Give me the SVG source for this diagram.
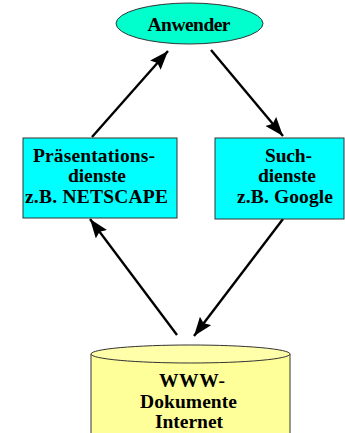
<svg xmlns="http://www.w3.org/2000/svg" width="345" height="433" viewBox="0 0 345 433">
<style>
text{font-family:"Liberation Serif","Times New Roman",serif;font-weight:bold;font-size:19.5px;fill:#000;text-anchor:middle;}
.edge{stroke:#000;stroke-width:2.4;fill:none;marker-end:url(#ah);}
.box{fill:#00FFFF;stroke:#333;stroke-width:1;}
</style>
<defs>
<marker id="ah" markerUnits="userSpaceOnUse" markerWidth="22" markerHeight="16" refX="19" refY="7" orient="auto">
<path d="M0,0 L19,7 L0,14 L3,7 z" fill="#000"/>
</marker>
</defs>
<rect width="345" height="433" fill="#fff"/>
<g id="connectors">
<line class="edge" x1="92" y1="137" x2="168" y2="51"/>
<line class="edge" x1="211" y1="50" x2="283" y2="136"/>
<line class="edge" x1="177" y1="335" x2="90" y2="219"/>
<line class="edge" x1="283" y1="219" x2="194" y2="336"/>
</g>
<g id="anwender">
<ellipse cx="189.5" cy="23.5" rx="73.5" ry="20.5" fill="#00FFCC" stroke="#333" stroke-width="1"/>
<text x="189" y="31" textLength="83" lengthAdjust="spacing">Anwender</text>
</g>
<g id="praesentation">
<rect class="box" x="23" y="138" width="154" height="80"/>
<text x="94" y="162" textLength="122" lengthAdjust="spacing">Präsentations-</text>
<text x="97" y="182" textLength="58" lengthAdjust="spacing">dienste</text>
<text x="96.5" y="202.5" textLength="143" lengthAdjust="spacing">z.B. NETSCAPE</text>
</g>
<g id="suche">
<rect class="box" x="215" y="138" width="129" height="81"/>
<text x="288.5" y="162" textLength="47" lengthAdjust="spacing">Such-</text>
<text x="287" y="182" textLength="58" lengthAdjust="spacing">dienste</text>
<text x="285" y="202.5" textLength="96" lengthAdjust="spacing">z.B. Google</text>
</g>
<g id="www">
<path d="M91,354 L91,440 L290,440 L290,354" fill="#FFFF99" stroke="#333" stroke-width="1"/>
<ellipse cx="190.5" cy="354" rx="99.5" ry="9" fill="#FFFFAA" stroke="#333" stroke-width="1"/>
<text x="192" y="387" textLength="66" lengthAdjust="spacing">WWW-</text>
<text x="188.5" y="408" textLength="97" lengthAdjust="spacing">Dokumente</text>
<text x="189" y="428" textLength="68" lengthAdjust="spacing">Internet</text>
</g>
</svg>
